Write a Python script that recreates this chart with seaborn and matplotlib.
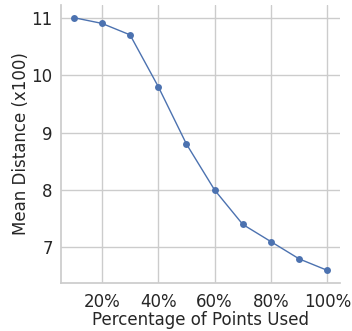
import numpy as np
import pandas as pd
import matplotlib
matplotlib.use("Agg")
import matplotlib.pyplot as plt
import seaborn as sns
from matplotlib.ticker import PercentFormatter

# data
pct_used = [10, 20, 30, 40, 50, 60, 70, 80, 90, 100]
mean_dist = [11.0, 10.9, 10.7, 9.8, 8.8, 8.0, 7.4, 7.1, 6.8, 6.6]
x_ticks = [20, 40, 60, 80, 100]
y_ticks = [7, 8, 9, 10, 11]

sns.set_theme(style="whitegrid")
plt.rcParams.update({"xtick.labelsize": 12, "ytick.labelsize": 12,
                     "axes.labelsize": 12})

df = pd.DataFrame({"pct": pct_used, "dist": mean_dist})

fig, ax = plt.subplots(figsize=(3.52, 3.31), dpi=100)
sns.lineplot(data=df, x="pct", y="dist", marker="o", markersize=5,
             markeredgewidth=0, linewidth=1, color="#4c72b0", ax=ax)

ax.set_xticks(x_ticks)
ax.set_yticks(y_ticks)
ax.xaxis.set_major_formatter(PercentFormatter(decimals=0))
ax.tick_params(axis="x", pad=1)
ax.tick_params(axis="y", pad=0)
ax.set_xlabel("Percentage of Points Used", labelpad=0)
ax.set_ylabel("Mean Distance (x100)", labelpad=1)
sns.despine(ax=ax)

fig.subplots_adjust(left=61/352, right=340/352, bottom=1 - 283/331, top=1 - 5/331)
plt.savefig("out.png", dpi=100)
plt.close()
